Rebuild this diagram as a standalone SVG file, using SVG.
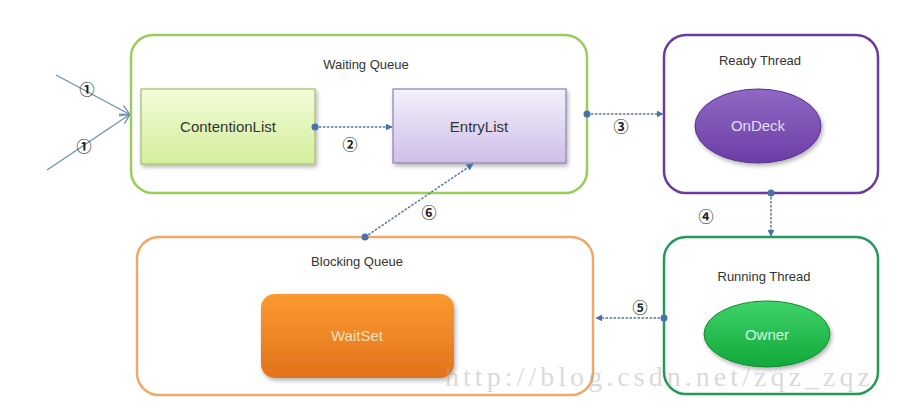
<svg xmlns="http://www.w3.org/2000/svg" width="906" height="408" viewBox="0 0 906 408">
<defs>
<style>
.title{font-family:"Liberation Sans",Arial,sans-serif;font-size:13px;fill:#333;text-anchor:middle}
.lbl{font-family:"Liberation Sans",Arial,sans-serif;font-size:15px;text-anchor:middle}
.num{font-family:"Noto Sans CJK SC","DejaVu Sans",sans-serif;font-size:15px;font-weight:bold;fill:#222;text-anchor:middle}
.conn{stroke:#5575a5;stroke-width:1.5;stroke-dasharray:2.5 1.5;fill:none}
.solid{stroke:#6f8fb5;stroke-width:1.3;fill:none}
.dot{fill:#4a70a8}
</style>
<linearGradient id="gGreen" x1="0" y1="0" x2="0" y2="1"><stop offset="0" stop-color="#f2fcd8"/><stop offset="1" stop-color="#d3ef9c"/></linearGradient>
<linearGradient id="gPurple" x1="0" y1="0" x2="0" y2="1"><stop offset="0" stop-color="#f4f0fb"/><stop offset="1" stop-color="#cebfe8"/></linearGradient>
<linearGradient id="gOnDeck" x1="0" y1="0" x2="0" y2="1"><stop offset="0" stop-color="#9068c4"/><stop offset="1" stop-color="#6a3ea5"/></linearGradient>
<linearGradient id="gOwner" x1="0" y1="0" x2="0" y2="1"><stop offset="0" stop-color="#3ed36a"/><stop offset="1" stop-color="#12a83a"/></linearGradient>
<linearGradient id="gWait" x1="0" y1="0" x2="0" y2="1"><stop offset="0" stop-color="#fb9a30"/><stop offset="1" stop-color="#e2721c"/></linearGradient>
<filter id="sh" x="-10%" y="-10%" width="130%" height="140%"><feDropShadow dx="1.5" dy="2.5" stdDeviation="2" flood-color="#000" flood-opacity="0.3"/></filter>
<marker id="arr" viewBox="0 0 10 10" refX="9" refY="5" markerWidth="7" markerHeight="7" orient="auto" markerUnits="userSpaceOnUse"><path d="M0,0 L10,5 L0,10 z" fill="#4a70a8"/></marker>
<marker id="arrO" viewBox="0 0 10 10" refX="9" refY="5" markerWidth="10" markerHeight="10" orient="auto" markerUnits="userSpaceOnUse"><path d="M0,0 L10,5 L0,10" fill="none" stroke="#6f8fb5" stroke-width="1.3"/></marker>
</defs>
<rect width="906" height="408" fill="#fff"/>

<g id="waiting-queue">
<rect x="131" y="35" width="456" height="158" rx="22" fill="#fff" stroke="#9ccc5c" stroke-width="2.5"/>
<text class="title" x="366" y="69">Waiting Queue</text>
</g>
<g id="contention-list">
<rect x="141" y="89" width="174" height="75" fill="url(#gGreen)" stroke="#a3bf6c" stroke-width="1.2" filter="url(#sh)"/>
<text class="lbl" x="228" y="132" fill="#333">ContentionList</text>
</g>
<g id="entry-list">
<rect x="393" y="89" width="173" height="74" fill="url(#gPurple)" stroke="#8f80ad" stroke-width="1.2" filter="url(#sh)"/>
<text class="lbl" x="479" y="132" fill="#333">EntryList</text>
</g>

<g id="ready-thread">
<rect x="664" y="35" width="214" height="158" rx="22" fill="#fff" stroke="#6b3a9e" stroke-width="2.5"/>
<text class="title" x="760" y="65">Ready Thread</text>
</g>
<g id="ondeck">
<ellipse cx="758" cy="126" rx="63" ry="37" fill="url(#gOnDeck)" stroke="#5a3090" stroke-width="1" filter="url(#sh)"/>
<text class="lbl" x="758" y="131" fill="#e6dcf5">OnDeck</text>
</g>

<g id="running-thread">
<rect x="664" y="237" width="214" height="157" rx="22" fill="#fff" stroke="#23995a" stroke-width="2.5"/>
<text class="title" x="764" y="281">Running Thread</text>
</g>
<g id="owner">
<ellipse cx="767" cy="334" rx="63" ry="33" fill="url(#gOwner)" stroke="#128a30" stroke-width="1" filter="url(#sh)"/>
<text class="lbl" x="767" y="340" fill="#d8f8e0">Owner</text>
</g>

<g id="blocking-queue">
<rect x="137" y="237" width="456" height="158" rx="22" fill="#fff" stroke="#f0a868" stroke-width="2.5"/>
<text class="title" x="357" y="266">Blocking Queue</text>
</g>
<g id="waitset">
<rect x="261" y="294" width="193" height="84" rx="14" fill="url(#gWait)" filter="url(#sh)"/>
<text class="lbl" x="357" y="341" fill="#fde2c0">WaitSet</text>
</g>

<g id="connectors">
<line class="solid" x1="56" y1="75" x2="129" y2="114" marker-end="url(#arrO)"/>
<line class="solid" x1="47" y1="170" x2="129" y2="115" marker-end="url(#arrO)"/>
<text class="num" x="87" y="95">①</text>
<text class="num" x="84" y="152">①</text>

<line class="conn" x1="315" y1="127" x2="392" y2="127" marker-end="url(#arr)"/>
<circle class="dot" cx="315" cy="127" r="3.5"/>
<text class="num" x="350" y="150">②</text>

<line class="conn" x1="587" y1="114" x2="663" y2="114" marker-end="url(#arr)"/>
<circle class="dot" cx="587" cy="114" r="3.5"/>
<text class="num" x="621" y="132">③</text>

<line class="conn" x1="771" y1="193" x2="771" y2="236" marker-end="url(#arr)"/>
<circle class="dot" cx="771" cy="193" r="3.5"/>
<text class="num" x="706" y="222">④</text>

<line class="conn" x1="664" y1="318" x2="596" y2="318" marker-end="url(#arr)"/>
<circle class="dot" cx="664" cy="318" r="3.5"/>
<text class="num" x="640" y="313">⑤</text>

<line class="conn" x1="365" y1="237" x2="473" y2="164" marker-end="url(#arr)"/>
<circle class="dot" cx="365" cy="237" r="3.5"/>
<text class="num" x="429" y="218">⑥</text>
</g>

<text x="445" y="386" font-family="Liberation Serif,serif" font-size="28" fill="#aaa" fill-opacity="0.45" textLength="425" lengthAdjust="spacing">http://blog.csdn.net/zqz_zqz</text>
</svg>
